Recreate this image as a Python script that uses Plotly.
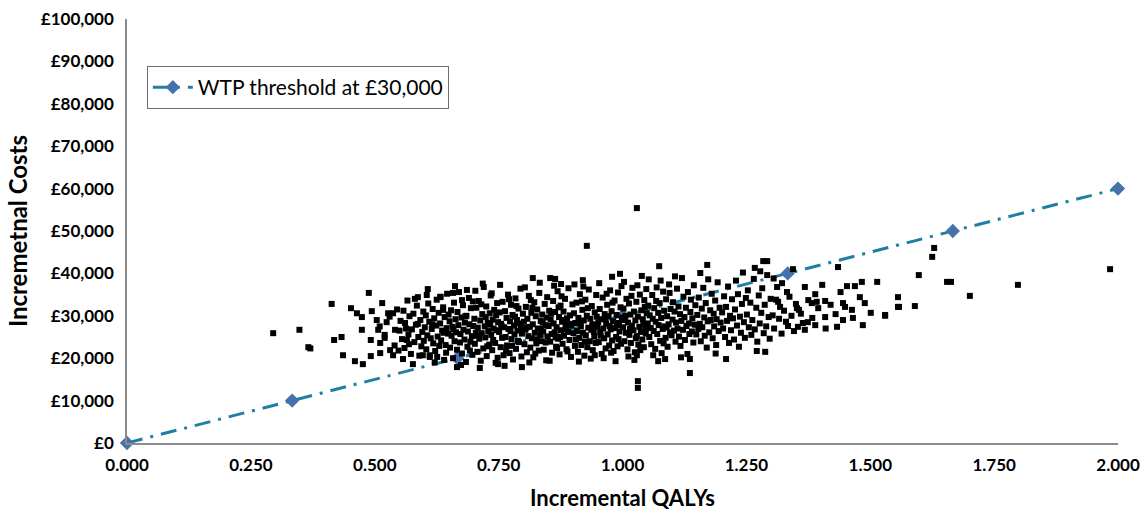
import plotly.graph_objects as go

# WTP threshold line (£30,000 per QALY)
wtp_qaly = [0.0, 1/3, 2/3, 1.0, 4/3, 5/3, 2.0]
wtp_cost = [0, 10000, 20000, 30000, 40000, 50000, 60000]

# PSA simulations (incremental QALYs, incremental costs)
pts_left = [(0.295,25900),(0.348,26700),(0.366,22600),(0.37,22300),(0.413,32800),(0.418,24300),(0.433,25000),(0.436,20700),
    (0.452,31800),(0.464,30600),(0.474,29700),(0.46,19300),(0.476,18600),(0.488,35400),(0.474,26700),(0.494,31100),(0.492,24300),
    (0.492,20500),(0.504,29000),(0.507,26700),(0.511,23600),(0.511,21200),(0.524,28500),(0.527,30600),(0.537,30600),(0.52,25500),
    (0.541,26700),(0.531,21900),(0.537,20700),(0.561,28300),(0.565,24300),(0.577,18600),(0.587,34400),(0.605,34900),(0.632,34400),
    (0.658,35400),(0.676,33700),(0.638,31400),(0.597,20700),(0.611,20700),(0.626,20300),(0.666,17900),
    (0.51,27500),(0.52,24800),(0.53,29800),(0.54,23000),(0.545,31500),(0.55,26500),(0.548,21800),(0.515,33000)]
pts_055 = [(0.552,28800),(0.555,24500),(0.558,31200),(0.56,22400),(0.563,27000),(0.566,33600),(0.568,25600),(0.57,29900),(0.573,21000),
    (0.575,26800),(0.578,30500),(0.58,23800),(0.583,27900),(0.585,32400),(0.588,25000),(0.59,20600),(0.592,29000),(0.594,22800),
    (0.596,26200),(0.598,31000),(0.599,24100),(0.557,19800),(0.581,34000),(0.587,28100),(0.569,23300)]
pts_060 = [(0.601,27300),(0.603,30100),(0.604,22100),(0.606,25400),(0.608,32900),(0.61,28600),(0.611,20300),(0.613,24700),(0.615,26900),
    (0.617,31600),(0.618,23500),(0.62,29400),(0.622,21700),(0.624,27700),(0.625,33800),(0.627,25100),(0.629,30700),(0.63,22900),
    (0.632,28200),(0.634,24200),(0.636,26500),(0.638,32000),(0.64,19600),(0.641,29700),(0.643,23100),(0.645,27100),(0.646,35200),
    (0.648,25800),(0.649,30300),(0.607,36300),(0.633,34500),(0.621,19000),(0.644,21300),(0.616,28000),(0.639,26000)]
pts_065 = [(0.651,28700),(0.652,22500),(0.654,31300),(0.655,25300),(0.657,27400),(0.658,20000),(0.66,33100),(0.661,24000),(0.663,29200),
    (0.664,26100),(0.666,22000),(0.667,30900),(0.669,27800),(0.67,35600),(0.672,23700),(0.673,25700),(0.675,29600),(0.676,21100),
    (0.678,32500),(0.679,26700),(0.681,24400),(0.682,28400),(0.684,19100),(0.685,30000),(0.687,22700),(0.688,26300),(0.69,34200),
    (0.691,28000),(0.693,23900),(0.694,31800),(0.696,25200),(0.697,20800),(0.699,27600),(0.662,37000),(0.686,36100),(0.674,18400),
    (0.698,33400),(0.659,26800),(0.683,29900),(0.692,21800)]
pts_070 = [(0.701,29300),(0.702,23400),(0.704,26000),(0.705,31900),(0.707,21500),(0.708,27200),(0.71,33500),(0.711,24600),(0.713,28900),
    (0.714,19400),(0.716,25900),(0.717,30400),(0.719,22300),(0.72,36800),(0.722,27500),(0.723,24900),(0.725,32200),(0.726,20500),
    (0.728,28300),(0.729,26400),(0.731,23200),(0.732,30600),(0.734,34800),(0.735,25500),(0.737,21900),(0.738,29100),(0.74,27000),
    (0.741,31400),(0.743,23600),(0.744,18900),(0.746,26600),(0.747,33000),(0.749,28500),(0.703,35900),(0.712,17700),(0.718,37600),
    (0.727,22800),(0.733,27900),(0.739,24300),(0.745,30100),(0.748,20100),(0.706,25300),(0.715,32700),(0.724,29700),(0.736,35300),
    (0.749,18600)]
pts_075 = [(0.751,26200),(0.752,30800),(0.754,22600),(0.755,28100),(0.757,24800),(0.758,33300),(0.76,20700),(0.761,27300),(0.763,31100),
    (0.764,25000),(0.766,29500),(0.767,23000),(0.769,35000),(0.77,26900),(0.772,21200),(0.773,28700),(0.775,32600),(0.776,24500),
    (0.778,30200),(0.779,19700),(0.781,27700),(0.782,25600),(0.784,34100),(0.785,22200),(0.787,29000),(0.788,26500),(0.79,31700),
    (0.791,23800),(0.793,28200),(0.794,36400),(0.796,20400),(0.797,25800),(0.799,30500),(0.753,37300),(0.762,18200),(0.771,33900),
    (0.777,22900),(0.783,29800),(0.789,24100),(0.795,27100),(0.797,17900),(0.756,27600),(0.765,21700),(0.774,26400),(0.786,32300)]
pts_080 = [(0.801,28600),(0.802,23300),(0.804,26700),(0.805,32100),(0.807,21400),(0.808,29300),(0.81,25200),(0.811,34700),(0.813,27400),
    (0.814,22500),(0.816,30700),(0.817,24700),(0.819,28000),(0.82,20200),(0.822,33200),(0.823,26000),(0.825,29900),(0.826,23500),
    (0.828,31500),(0.829,27000),(0.831,21800),(0.832,35400),(0.834,25500),(0.835,28800),(0.837,24000),(0.838,30300),(0.84,26300),
    (0.841,22000),(0.843,32800),(0.844,27800),(0.846,19500),(0.847,29600),(0.849,25100),(0.803,36700),(0.812,19000),(0.818,31900),
    (0.827,24400),(0.833,37800),(0.839,28400),(0.845,23700),(0.806,27200),(0.815,33700),(0.824,21100),(0.836,26900),(0.848,34400),
    (0.819,38900)]
pts_085 = [(0.851,27600),(0.852,31200),(0.854,23900),(0.855,29100),(0.857,25700),(0.858,21300),(0.86,33500),(0.861,28200),(0.863,26100),
    (0.864,30900),(0.866,22700),(0.867,27300),(0.869,35800),(0.87,24600),(0.872,29700),(0.873,20900),(0.875,32400),(0.876,26600),
    (0.878,28600),(0.879,23400),(0.881,31000),(0.882,25300),(0.884,34000),(0.885,27900),(0.887,22100),(0.888,29400),(0.89,26200),
    (0.891,36500),(0.893,24300),(0.894,30100),(0.896,20300),(0.897,27700),(0.899,32700),(0.853,19400),(0.862,37100),(0.868,22400),
    (0.874,25000),(0.877,34600),(0.883,29000),(0.889,21600),(0.895,28100),(0.856,30500),(0.865,24900),(0.871,32000),(0.886,26800),
    (0.854,38900),(0.864,38700),(0.876,37500)]
pts_090 = [(0.901,25900),(0.902,30600),(0.904,22900),(0.905,28300),(0.907,33100),(0.908,26400),(0.91,21500),(0.911,29500),(0.913,24800),
    (0.914,35100),(0.916,27500),(0.917,23100),(0.919,31400),(0.92,26000),(0.922,28900),(0.923,20600),(0.925,33800),(0.926,25400),
    (0.928,30000),(0.929,22600),(0.931,27200),(0.932,36200),(0.934,24000),(0.935,29300),(0.937,26700),(0.938,32300),(0.94,21900),
    (0.941,28000),(0.943,25100),(0.944,30800),(0.946,23600),(0.947,34900),(0.949,27400),(0.903,37400),(0.912,19200),(0.918,33400),
    (0.924,23900),(0.93,31800),(0.936,19900),(0.942,26300),(0.948,29800),(0.906,24400),(0.915,28600),(0.921,36900),(0.939,27800),
    (0.928,46500),(0.92,38400),(0.944,20700)]
pts_095 = [(0.951,28500),(0.952,23800),(0.954,31600),(0.955,26100),(0.957,29200),(0.958,21000),(0.96,34300),(0.961,27000),(0.963,24700),
    (0.964,30400),(0.966,22300),(0.967,28100),(0.969,32600),(0.97,25600),(0.972,29900),(0.973,23000),(0.975,36000),(0.976,26800),
    (0.978,31100),(0.979,24200),(0.981,28700),(0.982,21700),(0.984,33600),(0.985,27100),(0.987,25000),(0.988,30200),(0.99,22800),
    (0.991,35500),(0.993,28300),(0.994,26300),(0.996,32000),(0.997,23400),(0.999,29600),(0.953,37700),(0.962,20000),(0.968,35200),
    (0.974,27600),(0.98,33100),(0.986,19300),(0.992,24500),(0.998,37000),(0.956,25300),(0.965,29400),(0.977,21300),(0.989,27800),
    (0.979,39200),(0.995,39900)]
pts_100 = [(1.001,27300),(1.002,31700),(1.004,24000),(1.005,29000),(1.007,26000),(1.008,34000),(1.01,22100),(1.011,28400),(1.013,32900),
    (1.014,25500),(1.016,30300),(1.017,23600),(1.019,27700),(1.02,36600),(1.022,26600),(1.023,31000),(1.025,21400),(1.026,28900),
    (1.028,33300),(1.029,25200),(1.031,29800),(1.032,23200),(1.034,27400),(1.035,35000),(1.037,26200),(1.038,31300),(1.04,24400),
    (1.041,29200),(1.043,22600),(1.044,33700),(1.046,27000),(1.047,25800),(1.049,30600),(1.003,38000),(1.012,20400),(1.018,34700),
    (1.024,19600),(1.03,37200),(1.036,21900),(1.042,28100),(1.048,36300),(1.006,30000),(1.015,26900),(1.027,24700),(1.045,32100),
    (1.029,55400),(1.031,14600),(1.031,13000),(1.039,39400),(1.029,20700)]
pts_105 = [(1.051,28200),(1.052,32400),(1.054,25000),(1.055,30100),(1.057,27100),(1.058,23300),(1.06,34900),(1.061,29300),(1.063,26400),
    (1.064,31800),(1.066,22200),(1.067,28600),(1.069,36700),(1.07,25700),(1.072,30700),(1.073,27800),(1.075,33000),(1.076,24100),
    (1.078,29500),(1.079,21200),(1.081,26900),(1.082,35700),(1.084,31200),(1.085,27500),(1.087,24800),(1.088,33900),(1.09,29900),
    (1.091,22700),(1.093,28000),(1.094,37400),(1.096,26100),(1.097,31600),(1.099,25400),(1.053,38600),(1.062,20700),(1.068,33500),
    (1.077,38300),(1.083,23500),(1.089,27200),(1.095,35400),(1.074,41700),(1.072,19300),(1.086,19800)]
pts_110 = [(1.101,29100),(1.102,33200),(1.104,26500),(1.105,31000),(1.107,23900),(1.108,28400),(1.11,36400),(1.111,27000),(1.113,32200),
    (1.114,25100),(1.116,30400),(1.117,22900),(1.119,28800),(1.12,38900),(1.122,26700),(1.123,34500),(1.125,29700),(1.126,24300),
    (1.128,31900),(1.129,27600),(1.131,21000),(1.132,35600),(1.134,28200),(1.135,25700),(1.137,30900),(1.138,33800),(1.14,26300),
    (1.141,29400),(1.143,23700),(1.144,37200),(1.146,27900),(1.147,32500),(1.149,25600),(1.106,39300),(1.118,20200),
    (1.136,19800),(1.136,16500)]
pts_115 = [(1.151,30200),(1.153,26900),(1.154,34300),(1.156,28100),(1.158,24000),(1.16,31700),(1.161,27300),(1.163,36600),(1.165,29600),
    (1.166,25300),(1.168,33000),(1.17,22500),(1.172,28700),(1.173,38600),(1.175,26100),(1.177,31300),(1.178,29000),(1.18,35200),
    (1.182,24700),(1.184,30500),(1.185,27500),(1.187,33600),(1.189,23100),(1.19,29200),(1.192,37900),(1.194,26400),(1.196,31900),
    (1.198,28400),(1.157,40100),(1.188,21100),(1.171,42000)]
pts_120 = [(1.201,30800),(1.203,27000),(1.205,34600),(1.207,25000),(1.209,32100),(1.211,28800),(1.213,36900),(1.215,23600),(1.217,30000),
    (1.219,26600),(1.221,33900),(1.223,29400),(1.225,24400),(1.227,31500),(1.229,38300),(1.231,27700),(1.233,35100),(1.235,22700),
    (1.237,29800),(1.239,26000),(1.241,32800),(1.243,40200),(1.245,28500),(1.247,24800),(1.249,34200),(1.209,19800)]
pts_125 = [(1.251,30300),(1.253,36000),(1.255,27300),(1.258,33100),(1.26,25500),(1.262,29000),(1.265,38700),(1.267,26800),(1.27,31900),
    (1.272,23900),(1.275,34800),(1.277,28200),(1.28,30700),(1.282,36500),(1.285,25900),(1.287,32600),(1.29,27500),(1.292,39600),
    (1.295,29700),(1.297,24600),(1.299,34000),(1.278,40500),(1.284,42900),(1.292,42900),(1.267,41300),(1.271,21700),(1.288,21500)]
pts_right = [(1.303,30100),(1.306,27000),(1.31,33800),(1.316,29300),(1.321,25800),(1.326,31200),(1.33,28600),(1.337,34500),(1.341,30000),
    (1.346,26400),(1.35,32800),(1.305,38800),(1.36,30500),(1.375,33700),(1.383,29500),(1.395,31800),(1.41,27000),(1.42,32600),
    (1.43,30400),(1.44,35600),(1.344,41000),(1.435,41500),(1.514,38000),(1.483,38000),(1.469,37000),(1.453,37000),(1.403,37300),
    (1.368,36800),(1.389,35100),(1.382,33000),(1.392,33300),(1.409,33500),(1.445,33000),(1.449,32100),(1.479,34400),(1.489,33000),
    (1.463,31400),(1.501,30700),(1.53,30000),(1.556,34400),(1.556,32100),(1.409,29700),(1.445,29000),(1.433,27400),(1.465,29500),
    (1.485,27800),(1.389,27800),(1.374,28500),(1.364,28300),(1.368,26700),(1.354,27400),(1.334,27600),(1.352,31800),(1.356,31400),
    (1.322,37700),(1.312,36800),(1.332,35600),(1.314,33300),(1.318,32100),(1.629,46000),(1.625,43900),(1.598,39600),(1.655,38000),
    (1.663,38000),(1.701,34700),(1.798,37300),(1.984,41000),(1.558,32100),(1.59,32300),(1.53,30200)]

all_pts = (pts_left + pts_055 + pts_060 + pts_065 + pts_070 + pts_075 + pts_080 + pts_085 + pts_090
           + pts_095 + pts_100 + pts_105 + pts_110 + pts_115 + pts_120 + pts_125 + pts_right)
inc_qaly = [p[0] for p in all_pts]
inc_cost = [p[1] for p in all_pts]

x_ticks = [0, 0.25, 0.5, 0.75, 1.0, 1.25, 1.5, 1.75, 2.0]
x_tick_labels = ["0.000", "0.250", "0.500", "0.750", "1.000", "1.250", "1.500", "1.750", "2.000"]
y_ticks = [0, 10000, 20000, 30000, 40000, 50000, 60000, 70000, 80000, 90000, 100000]
y_tick_labels = ["£0", "£10,000", "£20,000", "£30,000", "£40,000", "£50,000",
                 "£60,000", "£70,000", "£80,000", "£90,000", "£100,000"]

fig = go.Figure()
fig.add_trace(go.Scatter(
    x=wtp_qaly, y=wtp_cost, mode="lines+markers", name="WTP threshold at £30,000",
    line=dict(color="#1f7fa3", width=3, dash="16px,8px,3px,8px"),
    marker=dict(symbol="diamond", size=11, color="#4672ab"),
    cliponaxis=False,
))
fig.add_trace(go.Scatter(
    x=inc_qaly, y=inc_cost, mode="markers", showlegend=False,
    marker=dict(symbol="square", size=6, color="black"),
))

tick_font = dict(size=17, family="Lato, Open Sans, sans-serif", weight="bold", color="black")
fig.update_layout(
    width=1142, height=512,
    margin=dict(l=127, r=24, t=19, b=69),
    paper_bgcolor="white", plot_bgcolor="white",
    font=dict(family="Lato, Open Sans, sans-serif", color="black"),
    legend=dict(x=0.02, y=0.889, xanchor="left", yanchor="top",
                bordercolor="#6f6f6f", borderwidth=1, bgcolor="white",
                itemwidth=40,
                font=dict(size=21, family="Lato, Open Sans, sans-serif")),
    xaxis=dict(range=[0, 2], tickvals=x_ticks, ticktext=x_tick_labels, automargin=False,
               showgrid=False, zeroline=False, showline=True, linecolor="#8c8c8c", linewidth=1.5,
               ticks="", ticklabelstandoff=6, ticklabeloverflow="allow", tickfont=tick_font,
               title=dict(text="<b>Incremental QALYs</b>", font=dict(size=22), standoff=16)),
    yaxis=dict(range=[0, 100000], tickvals=y_ticks, ticktext=y_tick_labels, automargin=False,
               showgrid=False, zeroline=False, showline=True, linecolor="#8c8c8c", linewidth=1.5,
               ticks="", ticklabelstandoff=8, ticklabeloverflow="allow", tickfont=tick_font,
               title=dict(text="<b>Incremetnal Costs</b>", font=dict(size=24), standoff=6)),
)

fig.write_html("out.html", config={"displayModeBar": False},
               post_script="document.body.style.margin='0px';document.body.style.overflow='hidden';")
